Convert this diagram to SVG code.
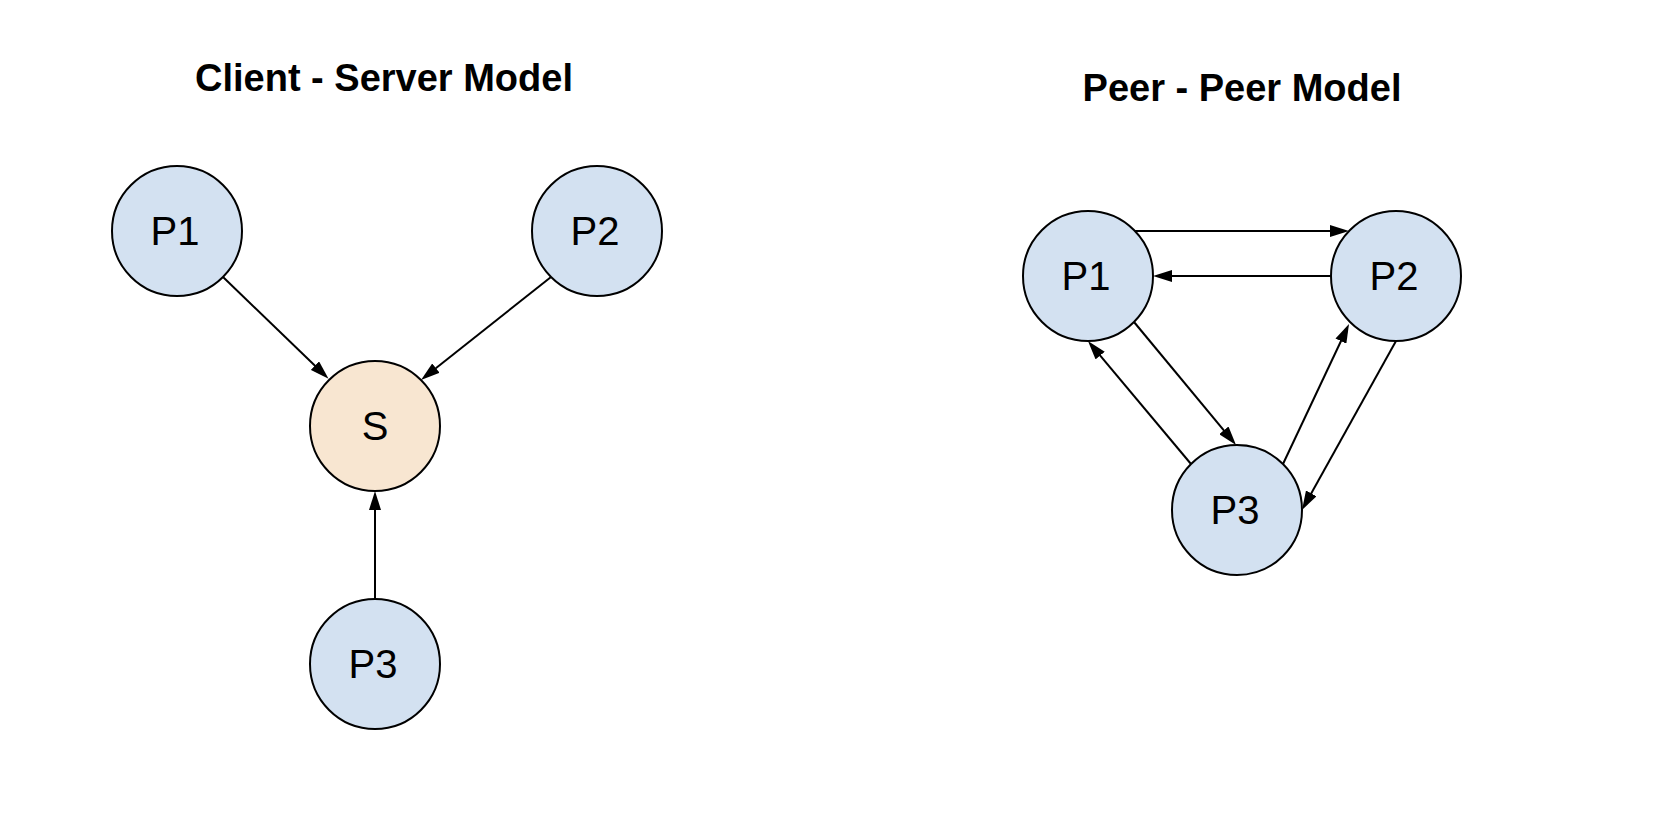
<svg xmlns="http://www.w3.org/2000/svg" width="1680" height="836" viewBox="0 0 1680 836">
<style>
.title{font-family:"Liberation Sans",Arial,sans-serif;font-size:38px;font-weight:bold;fill:#000;text-anchor:middle}
.lbl{font-family:"Liberation Sans",Arial,sans-serif;font-size:40px;fill:#000;text-anchor:middle}
.peer{fill:#d3e1f1;stroke:#000;stroke-width:2}
.srv{fill:#f8e6d1;stroke:#000;stroke-width:2}
.edge{stroke:#000;stroke-width:2;fill:none;marker-end:url(#ah)}
</style>
<defs>
<marker id="ah" viewBox="0 0 19 12" refX="11" refY="6" markerWidth="19" markerHeight="12" markerUnits="userSpaceOnUse" orient="auto">
<path d="M0,0 L19,6 L0,12 z" fill="#000"/>
</marker>
</defs>
<rect width="1680" height="836" fill="#fff"/>
<text class="title" x="384" y="91">Client - Server Model</text>
<text class="title" x="1242" y="101">Peer - Peer Model</text>
<g id="connectors">
<line class="edge" x1="223" y1="277" x2="322.8" y2="373.3"/>
<line class="edge" x1="551" y1="277" x2="427.3" y2="375"/>
<line class="edge" x1="375" y1="599" x2="375" y2="499"/>
<line class="edge" x1="1135" y1="231" x2="1341" y2="231"/>
<line class="edge" x1="1331" y1="276" x2="1161" y2="276"/>
<line class="edge" x1="1134" y1="322" x2="1230.9" y2="438.8"/>
<line class="edge" x1="1191" y1="464" x2="1093.1" y2="347.1"/>
<line class="edge" x1="1283" y1="464" x2="1345.6" y2="331.2"/>
<line class="edge" x1="1396" y1="341" x2="1305.9" y2="503"/>
</g>
<g id="cs-p1"><circle class="peer" cx="177" cy="231" r="65"/><text class="lbl" x="175" y="245">P1</text></g>
<g id="cs-p2"><circle class="peer" cx="597" cy="231" r="65"/><text class="lbl" x="595" y="245">P2</text></g>
<g id="cs-s"><circle class="srv" cx="375" cy="426" r="65"/><text class="lbl" x="375" y="440">S</text></g>
<g id="cs-p3"><circle class="peer" cx="375" cy="664" r="65"/><text class="lbl" x="373" y="678">P3</text></g>
<g id="pp-p1"><circle class="peer" cx="1088" cy="276" r="65"/><text class="lbl" x="1086" y="290">P1</text></g>
<g id="pp-p2"><circle class="peer" cx="1396" cy="276" r="65"/><text class="lbl" x="1394" y="290">P2</text></g>
<g id="pp-p3"><circle class="peer" cx="1237" cy="510" r="65"/><text class="lbl" x="1235" y="524">P3</text></g>
</svg>
